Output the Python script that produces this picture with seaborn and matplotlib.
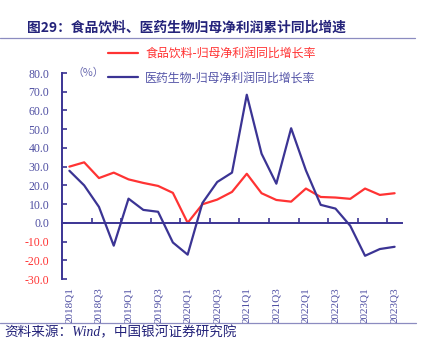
import matplotlib
matplotlib.use("Agg")
import matplotlib.pyplot as plt
import seaborn as sns
import pandas as pd
import numpy as np
from matplotlib.lines import Line2D

quarters = [f"{y}Q{q}" for y in range(2018, 2024) for q in range(1, 5)][:23]
food = [30.0, 32.3, 23.9, 26.8, 23.2, 21.3, 19.7, 16.0, 0.0, 9.9, 12.4, 16.5,
        26.2, 15.8, 12.2, 11.3, 18.3, 13.8, 13.5, 12.8, 18.3, 14.9, 15.8]
pharma = [27.8, 20.0, 8.5, -12.2, 12.9, 6.9, 5.9, -10.5, -17.0, 10.6, 21.8, 26.8,
          68.4, 36.9, 20.9, 50.5, 28.0, 9.6, 7.6, -1.6, -17.6, -14.0, -12.8]
series_names = ["食品饮料-归母净利润同比增长率", "医药生物-归母净利润同比增长率"]
yticks = [80, 70, 60, 50, 40, 30, 20, 10, 0, -10, -20, -30]
xlabels = quarters[::2]

RED = "#FF3333"
BLUE = "#3B3494"
LBLUE = "#4E4EA2"
TITLE = "#24237A"

sns.set_theme(style="white")
plt.rcParams["font.family"] = ["Noto Sans CJK SC", "DejaVu Sans"]

df = pd.DataFrame({
    "idx": list(range(len(quarters))) * 2,
    "value": food + pharma,
    "series": [series_names[0]] * len(food) + [series_names[1]] * len(pharma),
})

fig = plt.figure(figsize=(4.26, 3.5), dpi=100)
ax = fig.add_axes([62 / 426, 1 - 279 / 350, (402 - 62) / 426, (279 - 73) / 350])

sns.lineplot(data=df, x="idx", y="value", hue="series", palette=[RED, BLUE],
             linewidth=1.6, ax=ax, legend=False)

ax.set_xlim(-0.5, len(quarters) - 0.5)
ax.set_ylim(-30, 80)
ax.set_xlabel("")
ax.set_ylabel("")

for s in ["top", "right"]:
    ax.spines[s].set_visible(False)
ax.spines["left"].set_color(BLUE)
ax.spines["left"].set_linewidth(1.4)
ax.spines["bottom"].set_color(BLUE)
ax.spines["bottom"].set_linewidth(1.4)
ax.spines["bottom"].set_position(("data", 0))

# y ticks
ax.set_yticks(yticks)
ax.set_yticklabels([f"{v:.1f}" for v in yticks])
ax.tick_params(axis="y", direction="in", length=3.5, width=1.2, color=BLUE, pad=9, left=True,
               labelsize=8.5, labelfontfamily="Liberation Serif")
for lab, v in zip(ax.get_yticklabels(), yticks):
    lab.set_color(RED if v < 0 else LBLUE)

# x ticks on zero line (between labels)
ax.set_xticks(np.arange(1.5, len(quarters) - 1, 2))
ax.set_xticklabels([])
ax.tick_params(axis="x", direction="in", length=3.5, width=1.2, color=BLUE, bottom=True)

sec = ax.secondary_xaxis(0)
sec.set_xticks(list(range(0, len(quarters), 2)))
sec.set_xticklabels(xlabels, rotation=90)
sec.tick_params(length=0, pad=6, labelsize=8, labelcolor=LBLUE, labelfontfamily="Liberation Serif")
sec.spines["bottom"].set_visible(False)

ax.text(0.03, 1.0, "（%）", transform=ax.transAxes, fontsize=7.8, color="#6A6AB0",
        va="center", ha="left")

handles = [Line2D([], [], color=RED, lw=1.6), Line2D([], [], color=BLUE, lw=1.6)]
leg = fig.legend(handles, series_names, loc="upper left", bbox_to_anchor=(108 / 426, 1 - 47 / 350),
                 frameon=False, fontsize=8.6, handlelength=2.5, handletextpad=0.6,
                 labelspacing=0.95, borderpad=0, borderaxespad=0)
leg.get_texts()[0].set_color(RED)
leg.get_texts()[1].set_color("#5555A8")

fig.text(27 / 426, 1 - 27 / 350, "图29：食品饮料、医药生物归母净利润累计同比增速",
         fontsize=9.9, fontweight="bold", color=TITLE, va="center", ha="left")
fig.add_artist(Line2D([0, 415 / 426], [1 - 37.5 / 350] * 2, color="#8C8CC0", lw=0.9))
fig.add_artist(Line2D([0, 416 / 426], [1 - 323 / 350] * 2, color="#8C8CC0", lw=0.9))
fig.text(4 / 426, 1 - 333 / 350, "资料来源：Wind，中国银河证券研究院", fontsize=9.8,
         family=["Liberation Serif", "Noto Sans CJK SC"],
         style="italic", color=TITLE, va="center", ha="left")

fig.savefig("out.png", dpi=100)
